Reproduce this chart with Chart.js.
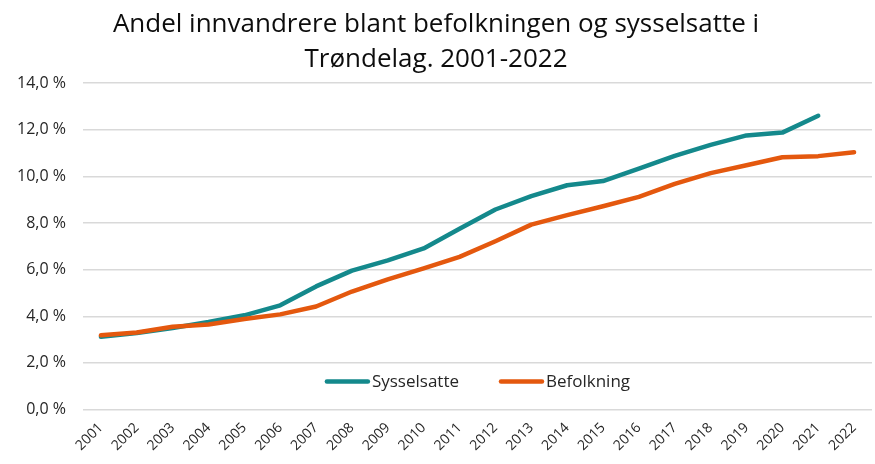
<!DOCTYPE html>
<html lang="no">
<head>
    <meta charset="UTF-8">
    <title>Andel innvandrere - Trøndelag</title>
    <script src="https://cdn.jsdelivr.net/npm/chart.js@4.4.0/dist/chart.umd.min.js"></script>
    <style>
        html, body { margin: 0; padding: 0; background: #fff; }
        #wrap { width: 875px; height: 464px; }
    </style>
</head>
<body>
    <div id="wrap"><canvas id="chart"></canvas></div>

    <script>
        // Data lest av figuren (prosent)
        const years = ['2001', '2002', '2003', '2004', '2005', '2006', '2007', '2008', '2009', '2010', '2011',
                       '2012', '2013', '2014', '2015', '2016', '2017', '2018', '2019', '2020', '2021', '2022'];
        const sysselsatte = [3.12, 3.28, 3.50, 3.75, 4.04, 4.47, 5.28, 5.96, 6.40, 6.91, 7.75,
                             8.58, 9.15, 9.62, 9.80, 10.33, 10.88, 11.35, 11.76, 11.88, 12.60, null];
        const befolkning = [3.18, 3.30, 3.55, 3.65, 3.88, 4.08, 4.42, 5.06, 5.58, 6.05, 6.55,
                            7.22, 7.93, 8.34, 8.72, 9.12, 9.68, 10.14, 10.48, 10.82, 10.87, 11.04];
        const yTicks = [0, 2, 4, 6, 8, 10, 12, 14];

        const tealColor = '#14898c';
        const orangeColor = '#e4580e';
        const fontFamily = '"Open Sans", Lato, sans-serif';

        // Tegner forklaringen inne i plottet, nederst midt på
        const innerLegend = {
            id: 'innerLegend',
            afterDraw(chart) {
                const ctx = chart.ctx;
                const area = chart.chartArea;
                const items = [chart.data.datasets[0], chart.data.datasets[1]];
                ctx.save();
                ctx.font = '17px ' + fontFamily;
                ctx.textBaseline = 'middle';
                const lineLen = 45, gap = 2, spacing = 40;
                const widths = items.map(d => lineLen + gap + ctx.measureText(d.label).width);
                const total = widths.reduce((a, b) => a + b) + spacing;
                let x = (area.left + area.right) / 2 - total / 2;
                const y = area.bottom - 28;
                items.forEach((d, i) => {
                    ctx.strokeStyle = d.borderColor;
                    ctx.lineWidth = 4.5;
                    ctx.lineCap = 'round';
                    ctx.beginPath();
                    ctx.moveTo(x + 2, y);
                    ctx.lineTo(x + lineLen - 2, y);
                    ctx.stroke();
                    ctx.fillStyle = '#262626';
                    ctx.fillText(d.label, x + lineLen + gap, y + 1);
                    x += widths[i] + spacing;
                });
                ctx.restore();
            }
        };

        const ctx = document.getElementById('chart').getContext('2d');
        new Chart(ctx, {
            type: 'line',
            data: {
                labels: years,
                datasets: [{
                    label: 'Sysselsatte',
                    data: sysselsatte,
                    borderColor: tealColor,
                    backgroundColor: tealColor,
                    borderWidth: 4.5,
                    order: 2
                }, {
                    label: 'Befolkning',
                    data: befolkning,
                    borderColor: orangeColor,
                    backgroundColor: orangeColor,
                    borderWidth: 4.5,
                    order: 1
                }]
            },
            options: {
                responsive: true,
                maintainAspectRatio: false,
                animation: false,
                layout: { padding: { left: 0, right: 3, bottom: 8 } },
                elements: {
                    point: { radius: 0, hoverRadius: 0 },
                    line: { tension: 0, borderCapStyle: 'round', borderJoinStyle: 'round' }
                },
                plugins: {
                    legend: { display: false },
                    tooltip: { enabled: false },
                    title: {
                        display: true,
                        text: ['Andel innvandrere blant befolkningen og sysselsatte i', 'Trøndelag. 2001-2022'],
                        color: '#0d0d0d',
                        font: { family: fontFamily, size: 26, weight: 'normal', lineHeight: 1.34 },
                        padding: { top: 7, bottom: 6.5 }
                    }
                },
                scales: {
                    x: {
                        offset: true,
                        grid: { display: false },
                        border: { display: false },
                        ticks: {
                            color: '#262626',
                            font: { family: fontFamily, size: 14 },
                            maxRotation: 45,
                            minRotation: 45,
                            autoSkip: false,
                            padding: 2
                        }
                    },
                    y: {
                        min: yTicks[0],
                        max: yTicks[yTicks.length - 1],
                        afterBuildTicks: axis => { axis.ticks = yTicks.map(v => ({ value: v })); },
                        grid: { color: '#d9d9d9', lineWidth: 1.5, drawTicks: false },
                        border: { display: false },
                        ticks: {
                            color: '#262626',
                            font: { family: fontFamily, size: 16 },
                            padding: 17,
                            callback: v => v.toFixed(1).replace('.', ',') + ' %'
                        }
                    }
                }
            },
            plugins: [innerLegend]
        });
    </script>
</body>
</html>
